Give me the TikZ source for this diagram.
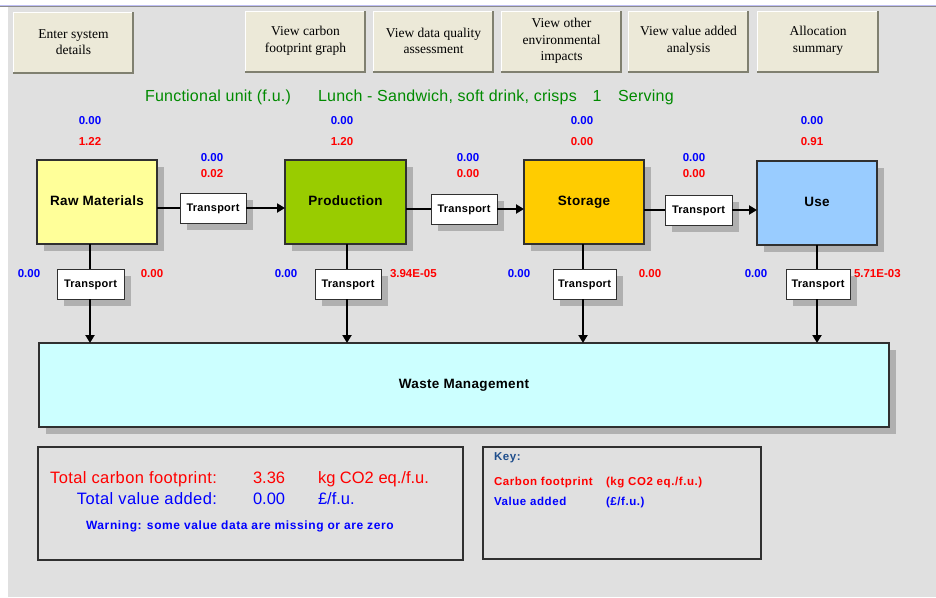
\documentclass[tikz,border=0pt]{standalone}
\usepackage{fontspec}
\setmainfont{Liberation Sans}
\newfontfamily\btnfont{Liberation Serif}
\newfontfamily\wideb{Liberation Sans}[LetterSpace=5]
\newfontfamily\semiwide{Liberation Sans}[LetterSpace=2.5]
\newfontfamily\fuwide{Liberation Sans}[LetterSpace=1.5]
\usetikzlibrary{arrows.meta,shadows}

\definecolor{panel}{HTML}{E0E0E0}
\definecolor{btnfill}{HTML}{ECE9D8}
\definecolor{btndark}{HTML}{808070}
\definecolor{shade}{HTML}{B0B0B0}
\definecolor{rawfill}{HTML}{FFFF99}
\definecolor{prodfill}{HTML}{99CC00}
\definecolor{storefill}{HTML}{FFCC00}
\definecolor{usefill}{HTML}{99CCFF}
\definecolor{wastefill}{HTML}{CCFFFF}
\definecolor{cfred}{HTML}{FF0000}
\definecolor{vablue}{HTML}{0000FF}
\definecolor{fugreen}{HTML}{008A00}
\definecolor{keynavy}{HTML}{1F4E8C}
\definecolor{edge}{HTML}{303030}

\tikzset{
  btn/.style={rectangle, fill=btnfill, inner sep=0pt, outer sep=0pt,
    minimum width=121pt, minimum height=60pt, align=center,
    font=\btnfont\fontsize{13.5}{16.5}\selectfont},
  boxshadow/.style={drop shadow={shadow xshift=7pt, shadow yshift=-7pt,
    fill=shade, opacity=1}},
  stage/.style={rectangle, draw=edge, line width=1.2pt, boxshadow,
    inner sep=0pt, outer sep=0pt, minimum width=120pt, minimum height=84pt,
    text height=0.72em, text depth=0pt,
    font=\semiwide\fontsize{13.5}{16}\selectfont\bfseries},
  tbox/.style={rectangle, draw=edge, line width=1pt, fill=white, boxshadow,
    inner sep=0pt, outer sep=0pt, minimum width=66pt, minimum height=30pt,
    text height=0.72em, text depth=0pt,
    font=\semiwide\fontsize{11}{13}\selectfont\bfseries, text=black},
  lbl/.style={inner sep=0pt, outer sep=0pt, text height=0.72em, text depth=0pt},
  num/.style={lbl, font=\fontsize{11.5}{13}\selectfont\bfseries},
  cf/.style={num, text=cfred},
  va/.style={num, text=vablue},
  fu/.style={lbl, text=fugreen, font=\fuwide\fontsize{16}{19}\selectfont},
  big/.style={lbl, font=\fontsize{16.5}{19}\selectfont},
  keytxt/.style={lbl, font=\wideb\fontsize{11.5}{13}\selectfont\bfseries},
  flow/.style={line width=2.6pt, draw=black},
  flowarrow/.style={flow, -{Triangle[length=8pt, width=9pt]}},
  panelbox/.style={rectangle, draw=edge, line width=1.3pt, inner sep=0pt, outer sep=0pt},
}

\begin{document}
\begin{tikzpicture}[x=1pt, y=-1pt]
\useasboundingbox (0,0) rectangle (936,597);

% window background and title rule
\fill[white] (0,0) rectangle (936,597);
\fill[panel] (8,7) rectangle (936,597);
\draw[line width=1pt, draw=black!15!blue!25!white] (0,5) -- (936,5);
\draw[line width=1pt, draw=black!45] (0,6.5) -- (936,6.5);

% command buttons
\node[btn] (enter)  at (73.5,42) {Enter system\\details};
\node[btn] (graph)  at (305.5,41) {View carbon\\footprint graph};
\node[btn] (dqa)    at (433.5,41) {View data quality\\assessment};
\node[btn] (envimp) at (561.5,41) {View other\\environmental\\impacts};
\node[btn] (vaa)    at (688.5,41) {View value added\\analysis};
\node[btn, minimum width=122pt] (alloc) at (818,41) {Allocation\\summary};
\foreach \b in {enter,graph,dqa,envimp,vaa,alloc}{
  \draw[white, line width=1.2pt] ([shift={(0.6pt,-0.6pt)}]\b.south west) |- ([shift={(-0.6pt,-0.6pt)}]\b.north east);
  \draw[btndark, line width=2pt] ([shift={(0pt,-1pt)}]\b.south west) -| ([shift={(-1pt,0pt)}]\b.north east);
}

% functional unit line
\node[fu, anchor=west] (fulabel) at (145,98) {Functional unit (f.u.)};
\node[fu, anchor=west] (funame)  at (318,98) {Lunch - Sandwich, soft drink, crisps};
\node[fu] (fuqty) at (597,98) {1};
\node[fu, anchor=west] (fuunit) at (618,98) {Serving};

% life-cycle stages
\node[stage, fill=rawfill]   (raw)   at (97,202)    {Raw Materials};
\node[stage, fill=prodfill, minimum width=121pt] (prod) at (345.5,202) {Production};
\node[stage, fill=storefill] (store) at (584,202)   {Storage};
\node[stage, fill=usefill]   (use)   at (817,203)   {Use};

% transport between stages
\node[tbox] (t1) at (213,208)   {Transport};
\node[tbox] (t2) at (464,209)   {Transport};
\node[tbox, minimum width=67pt] (t3) at (698.5,210) {Transport};

\draw[flow] (raw.east |- t1) -- (t1.west);
\draw[flowarrow] (t1.east) -- (prod.west |- t1);
\draw[flow] (prod.east |- t2) -- (t2.west);
\draw[flowarrow] (t2.east) -- (store.west |- t2);
\draw[flow] (store.east |- t3) -- (t3.west);
\draw[flowarrow] (t3.east) -- (use.west |- t3);

% waste management
\node[stage, fill=wastefill, minimum width=850pt, minimum height=84pt] (waste) at (464,385) {Waste Management};

% transport to waste management
\node[tbox, minimum width=67pt] (w1) at (90.5,284) {Transport};
\node[tbox] (w2) at (348,284)  {Transport};
\node[tbox, minimum width=63pt] (w3) at (584.5,284) {Transport};
\node[tbox, minimum width=64pt] (w4) at (818,284)  {Transport};

\coordinate (x1) at (90,0);
\coordinate (x2) at (347,0);
\coordinate (x3) at (583,0);
\coordinate (x4) at (817,0);
\draw[flow] (x1 |- raw.south) -- (x1 |- w1.north);
\draw[flowarrow] (x1 |- w1.south) -- (x1 |- waste.north);
\draw[flow] (x2 |- prod.south) -- (x2 |- w2.north);
\draw[flowarrow] (x2 |- w2.south) -- (x2 |- waste.north);
\draw[flow] (x3 |- store.south) -- (x3 |- w3.north);
\draw[flowarrow] (x3 |- w3.south) -- (x3 |- waste.north);
\draw[flow] (x4 |- use.south) -- (x4 |- w4.north);
\draw[flowarrow] (x4 |- w4.south) -- (x4 |- waste.north);

% values per stage
\node[va] (rawva)   at (90,121)  {0.00};
\node[cf] (rawcf)   at (90,142)  {1.22};
\node[va] (prodva)  at (342,121) {0.00};
\node[cf] (prodcf)  at (342,142) {1.20};
\node[va] (storeva) at (582,121) {0.00};
\node[cf] (storecf) at (582,142) {0.00};
\node[va] (useva)   at (812,121) {0.00};
\node[cf] (usecf)   at (812,142) {0.91};

% values per transport between stages
\node[va] (t1va) at (212,158) {0.00};
\node[cf] (t1cf) at (212,174) {0.02};
\node[va] (t2va) at (468,158) {0.00};
\node[cf] (t2cf) at (468,174) {0.00};
\node[va] (t3va) at (694,158) {0.00};
\node[cf] (t3cf) at (694,174) {0.00};

% values per transport to waste
\node[va] (w1va) at (29,274)  {0.00};
\node[cf] (w1cf) at (152,274) {0.00};
\node[va] (w2va) at (286,274) {0.00};
\node[cf, anchor=west] (w2cf) at (390,274) {3.94E-05};
\node[va] (w3va) at (519,274) {0.00};
\node[cf] (w3cf) at (650,274) {0.00};
\node[va] (w4va) at (756,274) {0.00};
\node[cf, anchor=west] (w4cf) at (854,274) {5.71E-03};

% totals panel
\node[panelbox, minimum width=425pt, minimum height=113pt] (totals) at (250.5,503.5) {};
\node[big, text=cfred, anchor=east]  (cflabel) at (217,480) {\semiwide Total carbon footprint:};
\node[big, text=cfred, anchor=west]  (cftotal) at (253,480) {3.36};
\node[big, text=cfred, anchor=west]  (cfunit)  at (318,480) {kg CO2 eq./f.u.};
\node[big, text=vablue, anchor=east] (valabel) at (217,501) {\semiwide Total value added:};
\node[big, text=vablue, anchor=west] (vatotal) at (253,501) {0.00};
\node[big, text=vablue, anchor=west] (vaunit)  at (318,501) {£/f.u.};
\node[keytxt, text=vablue, anchor=west, font=\wideb\fontsize{12}{14}\selectfont\bfseries] (warn) at (86,526) {Warning: some value data are missing or are zero};

% key panel
\node[panelbox, minimum width=278pt, minimum height=112pt] (key) at (622,503) {};
\node[keytxt, text=keynavy, anchor=west] (keytitle) at (494,457) {Key:};
\node[keytxt, text=cfred, anchor=west]  (keycf)  at (494,482) {Carbon footprint};
\node[keytxt, text=cfred, anchor=west]  (keycfu) at (606,482) {(kg CO2 eq./f.u.)};
\node[keytxt, text=vablue, anchor=west] (keyva)  at (494,502) {Value added};
\node[keytxt, text=vablue, anchor=west] (keyvau) at (606,502) {(£/f.u.)};
\end{tikzpicture}
\end{document}
